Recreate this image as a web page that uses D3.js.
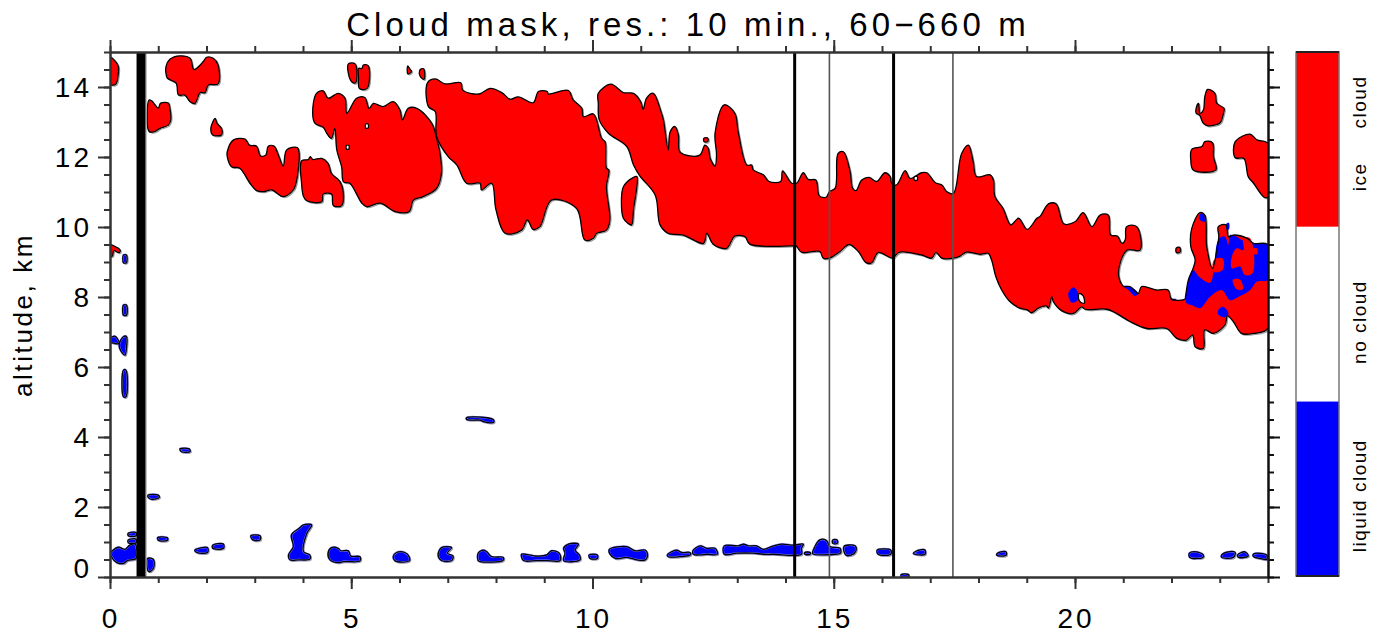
<!DOCTYPE html>
<html>
<head>
<meta charset="utf-8">
<title>Cloud mask</title>
<script src="https://d3js.org/d3.v7.min.js"></script>
<style>
  html, body { margin: 0; padding: 0; background: #fff; }
  text { font-family: "Liberation Sans", sans-serif; fill: #000; }
</style>
</head>
<body>
<div id="chart"></div>
<script>
// all outlines are [hour, altitude km]
var iceTopLeft = [[0,14.85],[0.1,14.75],[0.17,14.6],[0.17,14.35],[0.12,14.08],[0,14.08]];
var iceLowLeft = [[0.01,9.49],[0.08,9.46],[0.21,9.34],[0.19,9.27],[0.08,9.32],[0.05,9.17],[0.01,9.17]];
var iceB = [[0.81,13.63],[0.86,13.61],[1.0,13.4],[1.05,13.54],[1.21,13.54],[1.24,13.4],[1.26,13.06],[1.21,12.91],[1.04,12.82],[0.93,12.73],[0.81,12.73]];
var iceHeart = [[1.16,14.58],[1.24,14.79],[1.45,14.89],[1.66,14.82],[1.74,14.5],[1.93,14.72],[2.0,14.85],[2.14,14.82],[2.24,14.63],[2.24,14.09],[2.04,14.06],[1.97,13.84],[1.87,13.84],[1.76,13.53],[1.66,13.58],[1.55,13.77],[1.42,13.77],[1.37,14.11],[1.19,14.25],[1.16,14.39]];
var iceD = [[2.18,13.1],[2.22,12.96],[2.31,12.82],[2.31,12.63],[2.13,12.63],[2.09,12.82]];
var iceE = [[2.43,12.15],[2.56,12.49],[2.80,12.51],[2.89,12.34],[3.04,12.31],[3.12,12.03],[3.23,12.06],[3.28,12.31],[3.40,12.31],[3.49,12.06],[3.59,11.74],[3.66,12.2],[3.88,12.27],[3.92,12.11],[3.87,11.34],[3.80,11.06],[3.59,10.87],[3.35,11.06],[3.18,11.01],[3.04,11.04],[2.90,11.25],[2.69,11.68],[2.52,11.72],[2.43,12.01]];
var iceF = [[3.97,11.89],[4.11,11.93],[4.15,12.01],[4.20,11.93],[4.39,11.96],[4.52,11.82],[4.59,11.53],[4.77,11.29],[4.84,10.87],[4.80,10.61],[4.63,10.61],[4.59,10.94],[4.42,10.94],[4.39,10.72],[4.08,10.75],[4.01,10.87],[3.97,11.25]];
var iceG = [[4.20,13.25],[4.28,13.82],[4.42,13.89],[4.52,13.68],[4.73,13.82],[4.87,13.68],[4.91,13.25],[5.11,13.68],[5.28,13.70],[5.37,13.39],[5.46,13.53],[5.66,13.44],[5.87,13.58],[6.01,13.34],[6.06,13.06],[6.18,13.39],[6.36,13.39],[6.67,12.96],[6.77,12.53],[6.84,12.11],[6.87,11.53],[6.77,11.10],[6.49,10.87],[6.29,10.77],[6.20,10.44],[5.91,10.44],[5.60,10.68],[5.32,10.58],[5.22,10.68],[4.97,11.25],[4.84,11.29],[4.80,11.72],[4.70,12.2],[4.66,12.82],[4.59,12.53],[4.49,12.68],[4.42,12.85],[4.25,12.96]];
var iceH1 = [[4.94,14.66],[5.08,14.66],[5.09,14.12],[5.01,14.15],[4.94,14.39]];
var iceH2 = [[5.15,14.53],[5.22,14.53],[5.25,14.63],[5.35,14.61],[5.33,13.96],[5.17,13.96],[5.15,14.29]];
var iceTiny1 = [[6.17,14.6],[6.22,14.5],[6.25,14.45],[6.2,14.38],[6.17,14.38]];
var iceTiny2 = [[6.41,14.4],[6.43,14.5],[6.5,14.52],[6.51,14.22],[6.44,14.28],[6.41,14.38]];
var iceI = [[6.58,14.12],[6.74,14.23],[6.94,14.09],[7.27,14.12],[7.31,13.91],[7.65,13.80],[7.88,13.96],[8.12,13.84],[8.29,13.65],[8.46,13.72],[8.77,13.55],[8.88,13.87],[9.06,13.87],[9.08,13.80],[9.50,13.90],[9.60,13.63],[9.78,13.39],[9.81,13.15],[10.02,13.23],[10.19,12.53],[10.26,12.44],[10.29,11.68],[10.34,11.63],[10.29,11.15],[10.36,10.20],[10.29,9.91],[10.09,9.82],[10.02,9.68],[9.84,9.63],[9.67,10.53],[9.15,10.77],[8.91,10.01],[8.77,9.93],[8.65,10.20],[8.53,9.91],[8.19,9.82],[8.0,10.49],[7.91,11.25],[7.70,11.06],[7.67,11.25],[7.39,11.25],[7.19,11.77],[7.01,12.01],[6.77,12.58],[6.74,13.30],[6.60,13.44]];
var iceK = [[10.64,11.15],[10.85,11.42],[10.92,11.44],[10.85,10.49],[10.81,10.06],[10.74,10.10],[10.64,10.25],[10.60,10.63]];
var iceDot = [[12.31,12.54],[12.39,12.54],[12.39,12.44],[12.31,12.44]];
var iceMainBand = [[10.12,13.82],[10.38,14.08],[10.64,13.84],[10.85,13.82],[11.0,13.58],[11.05,13.36],[11.12,13.68],[11.26,13.82],[11.41,13.34],[11.47,13.06],[11.57,12.20],[11.61,12.72],[11.71,12.87],[11.78,12.63],[11.81,12.15],[12.02,12.03],[12.23,12.06],[12.33,12.34],[12.40,12.25],[12.44,11.96],[12.54,11.74],[12.57,12.06],[12.54,12.68],[12.73,13.49],[12.95,13.25],[13.02,12.72],[13.20,11.77],[13.30,11.77],[13.33,11.63],[13.54,11.49],[13.66,11.30],[13.90,11.30],[13.94,11.60],[14.13,11.25],
  [14.23,11.25],[14.37,11.55],[14.47,11.36],[14.63,11.34],[14.70,10.89],[14.84,10.85],[14.91,11.01],[15.03,11.11],[15.09,12.10],[15.20,12.15],[15.34,11.58],[15.39,11.11],[15.46,11.04],[15.58,11.34],[15.73,11.42],[15.89,11.30],[16.06,11.55],[16.17,11.44],[16.2,11.25],[16.30,11.20],[16.48,11.61],[16.58,11.39],[16.82,11.55],[16.93,11.55],[17.10,11.27],[17.24,11.20],[17.34,11.01],[17.48,10.96],[17.65,12.10],[17.79,12.34],[17.89,11.87],[17.96,11.44],[18.24,11.49],[18.31,11.34],[18.34,10.87],[18.51,10.53],[18.67,10.06],[18.83,10.25],[19.01,9.93],[19.21,10.25],[19.28,10.31],
  [19.45,10.66],[19.61,10.66],[19.77,10.09],[20.0,10.15],[20.17,10.41],[20.35,10.01],[20.52,10.34],[20.69,10.34],[20.74,9.77],[20.88,9.74],[20.97,9.53],[21.04,9.63],[21.07,10.01],[21.28,10.01],[21.35,9.34],[21.08,9.34],[20.90,8.68],[21.0,8.31],[21.14,8.30],[21.31,8.10],[21.38,8.30],[21.69,8.2],[21.93,8.2],[22.0,7.94],[22.28,7.94],[22.29,8.01],
  [22.35,8.49],[22.44,8.79],[22.49,9.06],[22.40,9.44],[22.42,9.96],[22.59,10.41],[22.69,10.34],[22.73,9.44],[22.85,8.82],[22.94,9.34],[22.98,9.72],[22.97,10.01],[23.13,10.06],[23.18,9.72],[23.28,9.77],[23.56,9.68],[23.70,9.53],[24,9.49],[24,7.10],[23.70,6.96],[23.45,6.96],[23.28,7.30],[23.16,7.46],[23.11,7.20],[22.87,6.96],[22.69,7.06],[22.66,6.53],[22.49,6.58],[22.44,6.91],[22.31,6.77],[22.11,6.82],[21.90,7.10],[21.49,7.10],[21.14,7.30],[20.86,7.53],[20.66,7.65],[20.21,7.65],[20.14,7.72],[19.97,7.53],[19.76,7.58],[19.55,7.87],[19.52,8.01],[19.45,7.68],[19.41,7.74],
  [19.24,7.68],[19.10,7.55],[19.01,7.63],[18.86,7.68],[18.65,7.87],[18.48,8.20],[18.36,8.58],[18.27,9.06],[18.20,9.25],[18.03,9.22],[17.75,9.28],[17.62,9.17],[17.48,9.11],[17.24,9.11],[17.12,9.27],[17.03,9.11],[16.82,9.20],[16.37,9.28],[16.29,9.20],[16.22,9.11],[15.92,9.27],[15.79,8.98],[15.67,8.98],[15.51,9.30],[15.32,9.50],[15.13,9.30],[14.91,9.11],[14.78,9.11],[14.71,9.30],[14.33,9.28],[14.22,9.46],[14.15,9.46],
  [13.26,9.51],[13.16,9.72],[12.95,9.74],[12.78,9.39],[12.50,9.51],[12.37,9.82],[12.30,9.53],[11.88,9.77],[11.57,9.82],[11.40,10.06],[11.30,10.91],[10.98,11.46],[10.85,11.77],[10.71,12.30],[10.33,12.68],[10.14,13.06],[10.12,13.53]];
var iceL = [[22.51,13.39],[22.56,13.53],[22.59,13.25],[22.66,13.34],[22.69,13.72],[22.75,13.93],[22.90,13.82],[22.94,13.53],[23.09,13.39],[23.07,13.2],[23.01,12.98],[22.76,12.89],[22.66,12.96],[22.58,13.2],[22.51,13.25]];
var iceM = [[22.42,12.22],[22.63,12.3],[22.69,12.44],[22.85,12.41],[22.87,12.01],[22.92,11.63],[22.45,11.63],[22.40,11.91]];
var iceN = [[23.32,12.44],[23.63,12.65],[23.77,12.49],[24,12.39],[24,10.85],[23.92,10.85],[23.70,11.25],[23.59,11.44],[23.50,11.96],[23.32,11.98]];
var iceSpeck = [[22.1,9.4],[22.17,9.42],[22.18,9.28],[22.1,9.27]];

var liqLeftLow = [[0.01,0.68],[0.17,0.85],[0.31,0.79],[0.41,0.91],[0.52,0.94],[0.54,0.53],[0.36,0.47],[0.28,0.39],[0.14,0.41],[0.03,0.58]];
var liqLeftB = [[0.38,1.25],[0.54,1.27],[0.54,1.18],[0.38,1.18]];
var liqLeftC = [[0.38,1.06],[0.54,1.08],[0.54,0.98],[0.38,0.98]];
var liqC = [[0.78,0.53],[0.90,0.50],[0.90,0.25],[0.81,0.15],[0.78,0.20]];
var liqD = [[0.79,2.34],[1.0,2.34],[1.02,2.27],[0.86,2.22],[0.79,2.28]];
var liqE = [[0.99,1.13],[1.19,1.12],[1.19,1.05],[1.0,1.05]];
var liqF = [[1.76,0.77],[2.02,0.84],[2.02,0.70],[1.80,0.70]];
var liqG = [[2.13,0.91],[2.35,0.94],[2.35,0.82],[2.13,0.82]];
var liqH = [[2.92,1.18],[3.11,1.18],[3.11,1.06],[2.96,1.06]];
var liqI = [[3.76,1.2],[3.92,1.39],[4.01,1.49],[4.18,1.49],[4.08,1.25],[4.01,0.72],[4.14,0.63],[4.14,0.51],[3.90,0.49],[3.73,0.49],[3.70,0.63],[3.80,0.87]];
var liqJ = [[4.52,0.68],[4.59,0.84],[4.73,0.82],[4.78,0.75],[4.94,0.75],[4.99,0.6],[5.18,0.58],[5.18,0.46],[4.84,0.44],[4.73,0.41],[4.56,0.49]];
var liqK = [[5.87,0.58],[5.94,0.70],[6.11,0.70],[6.20,0.58],[6.20,0.46],[5.91,0.46]];
var liqL = [[6.80,0.63],[6.87,0.84],[7.08,0.84],[6.99,0.68],[7.11,0.60],[7.08,0.47],[6.87,0.47]];
var liqM = [[7.63,0.68],[7.74,0.77],[7.81,0.72],[7.91,0.58],[8.15,0.56],[8.14,0.47],[7.67,0.44],[7.63,0.47]];
var liqN = [[8.53,0.65],[8.70,0.63],[8.81,0.60],[9.05,0.63],[9.15,0.75],[9.31,0.68],[9.33,0.47],[9.05,0.47],[8.84,0.47],[8.57,0.47]];
var liqO = [[9.40,0.82],[9.50,0.94],[9.71,0.94],[9.64,0.77],[9.73,0.63],[9.74,0.49],[9.40,0.47],[9.43,0.68]];
var liqP = [[9.93,0.63],[10.10,0.63],[10.10,0.53],[9.95,0.53]];
var liqQ = [[10.35,0.79],[10.71,0.87],[10.88,0.75],[11.09,0.77],[11.14,0.63],[11.09,0.49],[10.92,0.49],[10.71,0.56],[10.47,0.53],[10.36,0.66]];
var liqR = [[11.55,0.63],[11.74,0.77],[11.85,0.70],[12.02,0.70],[12.03,0.63],[11.81,0.58],[11.57,0.58]];
var liqS = [[12.08,0.75],[12.23,0.89],[12.37,0.82],[12.54,0.82],[12.59,0.65],[12.37,0.65],[12.23,0.63],[12.09,0.65]];
var liqT = [[12.73,0.89],[13.02,0.89],[13.13,0.94],[13.23,0.89],[13.40,0.89],[13.54,0.79],[13.75,0.89],[13.92,0.94],[14.16,0.91],[14.37,0.94],[14.33,0.82],[14.33,0.65],[13.75,0.65],[13.54,0.65],[13.33,0.68],[12.99,0.68],[12.73,0.65]];
var liqU = [[14.40,0.70],[14.51,0.70],[14.51,0.65],[14.40,0.65]];
var liqV = [[14.56,0.68],[14.71,1.06],[14.85,1.04],[14.92,0.87],[15.13,0.82],[15.14,0.68],[15.03,0.65],[14.58,0.65]];
var liqV2 = [[14.98,1.06],[15.07,1.06],[15.07,0.96],[14.98,0.96]];
var liqW = [[15.21,0.87],[15.44,0.89],[15.46,0.75],[15.37,0.63],[15.25,0.63]];
var liqX = [[15.90,0.77],[16.18,0.77],[16.18,0.65],[15.92,0.65]];
var liqY = [[16.65,0.68],[16.77,0.77],[16.89,0.77],[16.89,0.65],[16.68,0.65]];
var liqGround = [[16.4,0.07],[16.55,0.07],[16.55,0.0],[16.4,0.0]];
var liqZ = [[18.38,0.66],[18.46,0.72],[18.57,0.72],[18.57,0.62],[18.38,0.62]];
var liqEnd1 = [[22.37,0.68],[22.52,0.72],[22.66,0.63],[22.65,0.56],[22.38,0.56]];
var liqEnd2 = [[23.04,0.63],[23.18,0.72],[23.32,0.70],[23.28,0.56],[23.04,0.56]];
var liqEnd3 = [[23.37,0.63],[23.52,0.72],[23.59,0.60],[23.39,0.56]];
var liqEnd4 = [[23.70,0.66],[23.97,0.63],[23.97,0.50],[23.83,0.53],[23.70,0.58]];
var liqMid = [[7.39,4.55],[7.81,4.55],[7.95,4.49],[7.95,4.42],[7.74,4.44],[7.67,4.48],[7.39,4.50]];
var liqMid2 = [[1.45,3.66],[1.64,3.66],[1.66,3.58],[1.48,3.58]];
var liqBar1 = [[0.28,9.2],[0.34,9.2],[0.34,8.98],[0.28,8.98]];
var liqBar2 = [[0.28,7.77],[0.34,7.77],[0.34,7.48],[0.28,7.48]];
var liqBar3 = [[0.01,6.82],[0.10,6.88],[0.19,6.68],[0.07,6.68],[0.01,6.72]];
var liqBar4 = [[0.28,6.87],[0.34,6.87],[0.34,6.53],[0.31,6.34],[0.26,6.39],[0.19,6.63]];
var liqBar5 = [[0.28,5.91],[0.33,5.91],[0.33,5.15],[0.28,5.15]];

// liquid patches inside the ice, no contour around them
var mixMain = [[22.31,7.82],[22.35,8.44],[22.44,8.77],[22.59,8.56],[22.80,8.41],[22.87,8.72],[22.90,9.06],[22.94,9.53],[23.01,9.70],[23.11,9.72],[23.18,9.49],[23.21,9.77],[23.35,9.72],[23.45,9.63],[23.70,9.53],[24,9.49],[24,8.49],[23.77,8.44],[23.63,8.2],[23.32,7.96],[23.21,7.91],[23.04,8.2],[22.80,8.01],[22.59,7.68],[22.42,7.77]];
var mixSpire = [[22.58,10.34],[22.66,10.39],[22.69,10.15],[22.59,10.2]];
var mixSmall = [[23.14,10.1],[23.19,10.12],[23.19,9.93],[23.14,9.93]];
var mixBlob = [[19.86,8.1],[19.97,8.28],[20.07,8.1],[20.05,7.91],[19.93,7.84]];
var mixLow = [[22.97,7.63],[23.07,7.72],[23.18,7.53],[23.11,7.42],[22.97,7.49]];
var mixEdge = [[21.0,8.31],[21.14,8.30],[21.31,8.10],[21.24,8.03],[21.11,8.2]];
var mixTiny = [[21.97,7.94],[22.11,7.94],[22.04,7.9]];
var islandP = [[23.25,9.15],[23.35,9.39],[23.49,9.34],[23.49,9.68],[23.63,9.68],[23.68,8.68],[23.52,8.63],[23.42,8.87],[23.25,8.82]];
var islandQ = [[23.70,9.39],[23.77,9.39],[23.78,9.23],[23.70,9.23]];
var islandR = [[23.27,8.49],[23.42,8.50],[23.48,8.22],[23.35,8.22]];
var islandS = [[22.88,9.06],[23.06,9.10],[23.06,8.77],[22.87,8.72]];

// holes in the mask
var holeNotch = [[20.09,8.10],[20.17,8.03],[20.19,7.82],[20.10,7.87],[20.07,8.01]];
var holeA = [[5.30,12.94],[5.35,12.94],[5.35,12.83],[5.30,12.83]];
var holeB = [[4.90,12.33],[4.95,12.33],[4.95,12.23],[4.90,12.23]];
var holeC = [[16.67,11.44],[16.73,11.44],[16.73,11.34],[16.67,11.34]];

var iceClouds = [iceTopLeft, iceLowLeft, iceB, iceHeart, iceD, iceE, iceF, iceG, iceH1, iceH2, iceTiny1, iceTiny2, iceI, iceK, iceDot, iceMainBand, iceL, iceM, iceN, iceSpeck];
var liquidClouds = [liqLeftLow, liqLeftB, liqLeftC, liqC, liqD, liqE, liqF, liqG, liqH, liqI, liqJ, liqK, liqL, liqM, liqN, liqO, liqP, liqQ, liqR, liqS, liqT, liqU, liqV, liqV2, liqW, liqX, liqY, liqGround, liqZ, liqEnd1, liqEnd2, liqEnd3, liqEnd4, liqMid, liqMid2, liqBar1, liqBar2, liqBar3, liqBar4, liqBar5];
var mixPatches = [mixMain, mixSpire, mixSmall, mixBlob, mixLow, mixEdge, mixTiny];
var iceIslands = [islandP, islandQ, islandR, islandS];
var holes = [holeNotch, holeA, holeB, holeC];

// data gaps: start and end hour
var gapBar = [[0.55, 0.74]];
var gapThick = [14.19, 16.24];
var gapThin = [14.91, 17.47];

var xMajor = [0, 5, 10, 15, 20];
var yMajor = [0, 2, 4, 6, 8, 10, 12, 14];
var xMinor = d3.range(0, 25, 1);
var yMinor = d3.range(0, 15.5, 0.5);

var legendNames = ["liquid cloud", "no cloud", "ice cloud"];
var legendColors = ["#0000ff", "#ffffff", "#ff0000"];

var W = 1385, H = 639;
var left = 110, right = 1268, top_ = 52, bottom = 577;

var x = d3.scaleLinear().domain([0, 24]).range([left, right]);
var y = d3.scaleLinear().domain([0, 15]).range([bottom, top_]);

var svg = d3.select("#chart").append("svg")
    .attr("width", W).attr("height", H)
    .style("display", "block");

svg.append("defs").append("clipPath").attr("id", "plot")
    .append("rect")
    .attr("x", left).attr("y", top_)
    .attr("width", right - left).attr("height", bottom - top_);

// contours are round in the original, so a closed spline
var path = d3.line()
    .x(function (d) { return x(d[0]); })
    .y(function (d) { return y(d[1]); })
    .curve(d3.curveCatmullRomClosed.alpha(0.5));

var plot = svg.append("g").attr("clip-path", "url(#plot)");

// soft grey contour shadow
plot.append("g").attr("transform", "translate(1,1)")
    .selectAll("path").data(iceClouds.concat(liquidClouds)).enter().append("path")
    .attr("d", path).attr("fill", "none").attr("stroke", "#9a9a9a").attr("stroke-width", 1.2);

plot.append("g").selectAll("path").data(iceClouds).enter().append("path")
    .attr("d", path).attr("fill", "#ff0000");
plot.append("g").selectAll("path").data(liquidClouds).enter().append("path")
    .attr("d", path).attr("fill", "#0000ff").attr("stroke", "#8c8cff").attr("stroke-width", 2);
plot.append("g").selectAll("path").data(mixPatches).enter().append("path")
    .attr("d", path).attr("fill", "#0000ff");
plot.append("g").selectAll("path").data(iceIslands).enter().append("path")
    .attr("d", path).attr("fill", "#ff0000");
plot.append("g").selectAll("path").data(holes).enter().append("path")
    .attr("d", path).attr("fill", "#fff");

// black contour on top
plot.append("g").selectAll("path").data(iceClouds.concat(liquidClouds, holes)).enter().append("path")
    .attr("d", path).attr("fill", "none").attr("stroke", "#000").attr("stroke-width", 1.3);

// gaps
plot.selectAll(".gap").data(gapBar).enter().append("rect")
    .attr("x", function (d) { return x(d[0]); })
    .attr("y", top_)
    .attr("width", function (d) { return x(d[1]) - x(d[0]); })
    .attr("height", bottom - top_)
    .attr("fill", "#000");
plot.selectAll(".gapEdge").data(gapBar).enter().append("line")
    .attr("x1", function (d) { return x(d[1]) + 0.5; })
    .attr("x2", function (d) { return x(d[1]) + 0.5; })
    .attr("y1", top_).attr("y2", bottom)
    .attr("stroke", "#aaa").attr("stroke-width", 1);
plot.selectAll(".thick").data(gapThick).enter().append("line")
    .attr("x1", function (d) { return x(d); })
    .attr("x2", function (d) { return x(d); })
    .attr("y1", top_).attr("y2", bottom)
    .attr("stroke", "#000").attr("stroke-width", 3);
plot.selectAll(".thin").data(gapThin).enter().append("line")
    .attr("x1", function (d) { return x(d); })
    .attr("x2", function (d) { return x(d); })
    .attr("y1", top_).attr("y2", bottom)
    .attr("stroke", "#555").attr("stroke-width", 1.6);

// axes, four sides, ticks outward
function drawAxis(axisFn, scale, vals, size, tx, ty, color) {
    var g = svg.append("g")
        .attr("transform", "translate(" + tx + "," + ty + ")")
        .call(axisFn(scale).tickValues(vals).tickSize(size).tickSizeOuter(0));
    g.select(".domain").attr("stroke", color).attr("stroke-width", 2);
    g.selectAll("line").attr("stroke", color).attr("stroke-width", 2);
    g.selectAll("text").remove();
}

drawAxis(d3.axisBottom, x, xMinor, 6, 0, bottom, "#333");
drawAxis(d3.axisBottom, x, xMajor, 12, 0, bottom, "#333");
drawAxis(d3.axisTop, x, xMinor, 6, 0, top_, "#333");
drawAxis(d3.axisTop, x, xMajor, 12, 0, top_, "#333");
drawAxis(d3.axisLeft, y, yMinor, 6, left, 0, "#333");
drawAxis(d3.axisLeft, y, yMajor, 12, left, 0, "#333");
drawAxis(d3.axisRight, y, yMinor, 6, right, 0, "#111");
drawAxis(d3.axisRight, y, yMajor, 12, right, 0, "#111");

// tick labels
svg.selectAll(".xl").data(xMajor).enter().append("text")
    .attr("x", function (d) { return x(d) + 1; })
    .attr("y", 628)
    .attr("text-anchor", "middle")
    .attr("font-size", 28)
    .attr("letter-spacing", 3)
    .text(function (d) { return d; });

svg.selectAll(".yl").data(yMajor).enter().append("text")
    .attr("x", 92)
    .attr("y", function (d) { return d === 0 ? y(d) + 1 : y(d) + 10; })
    .attr("text-anchor", "end")
    .attr("font-size", 28)
    .attr("letter-spacing", 3)
    .text(function (d) { return d; });

svg.append("text")
    .attr("transform", "translate(32,315) rotate(-90)")
    .attr("text-anchor", "middle")
    .attr("font-size", 26)
    .attr("letter-spacing", 2.6)
    .text("altitude, km");

svg.append("text")
    .attr("x", 688).attr("y", 36)
    .attr("text-anchor", "middle")
    .attr("font-size", 33)
    .attr("letter-spacing", 4.1)
    .text("Cloud mask, res.: 10 min., 60\u2212660 m");

// colour bar
var barX = 1296, barW = 43;
var band = d3.scaleBand().domain(legendNames).range([576, 52]);

svg.selectAll(".cb").data(legendNames).enter().append("rect")
    .attr("x", barX)
    .attr("y", function (d) { return band(d); })
    .attr("width", barW)
    .attr("height", band.bandwidth())
    .attr("fill", function (d, i) { return legendColors[i]; });

svg.append("rect")
    .attr("x", barX).attr("y", 52).attr("width", barW).attr("height", 524)
    .attr("fill", "none").attr("stroke", "#777").attr("stroke-width", 1.5);
svg.selectAll(".cbEnd").data([52, 576]).enter().append("line")
    .attr("x1", barX).attr("x2", barX + barW)
    .attr("y1", function (d) { return d; }).attr("y2", function (d) { return d; })
    .attr("stroke", "#222").attr("stroke-width", 2);

// labels do not sit quite in the middle of their band
var labelShift = { "liquid cloud": 7, "no cloud": 8, "ice cloud": -6 };

svg.selectAll(".cbl").data(legendNames).enter().append("text")
    .attr("transform", function (d) {
        return "translate(1366," + (band(d) + band.bandwidth() / 2 + labelShift[d]) + ") rotate(-90)";
    })
    .attr("text-anchor", "middle")
    .attr("font-size", 19)
    .attr("letter-spacing", 1.5)
    .style("white-space", "pre")
    .text(function (d) { return d === "ice cloud" ? "ice     cloud" : d; });
</script>
</body>
</html>
